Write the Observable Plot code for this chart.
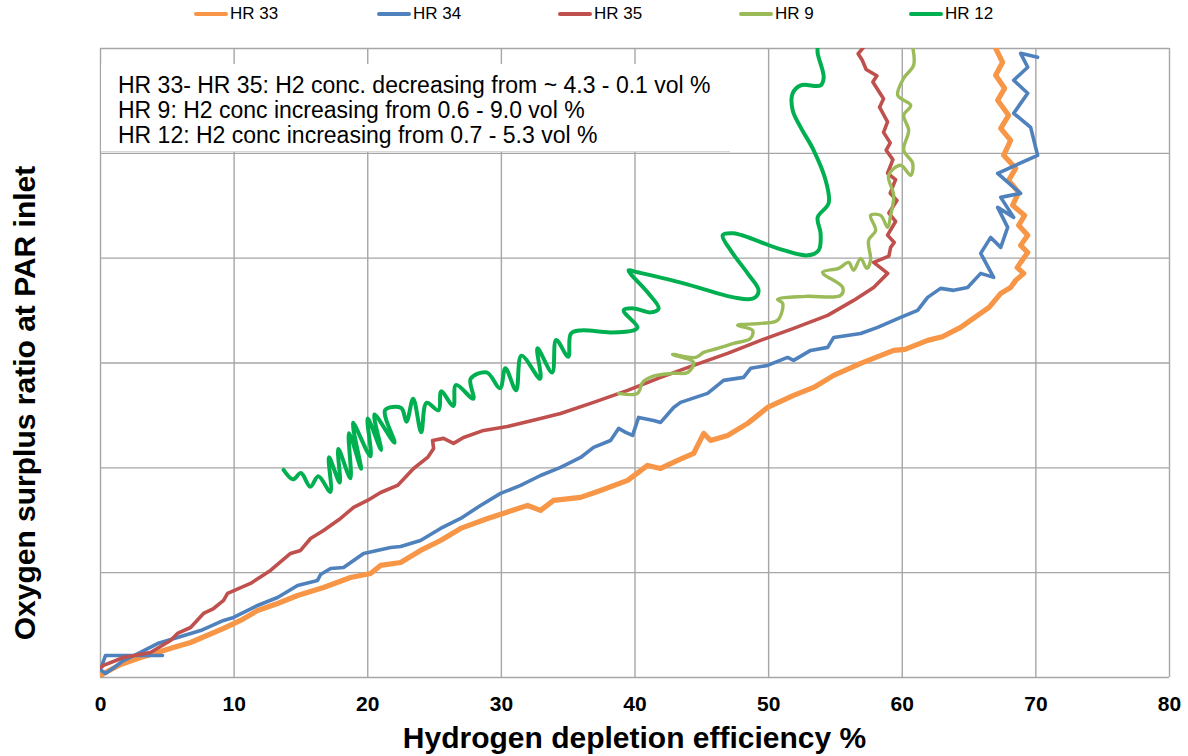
<!DOCTYPE html>
<html><head><meta charset="utf-8">
<script src="https://cdn.jsdelivr.net/npm/d3@7"></script>
<script src="https://cdn.jsdelivr.net/npm/@observablehq/plot@0.6"></script>
<style>
body{margin:0;background:#fff;font-family:"Liberation Sans",Arial,sans-serif;}
#wrap{position:relative;width:1188px;height:756px;overflow:hidden;background:#fff;}
#chart{position:absolute;left:0;top:0;}
.leg{position:absolute;top:4px;font-size:17px;line-height:20px;display:flex;align-items:center;color:#000;}
.sw{display:inline-block;width:34px;height:4px;margin-right:2px;border-radius:2px;}
#note{position:absolute;left:101px;top:64px;width:629px;height:88px;background:#fff;border-bottom:1px solid #d8d8d8;font-size:23px;line-height:25px;padding:9px 0 0 17px;box-sizing:border-box;color:#000;white-space:nowrap;}
#xt{position:absolute;left:100px;width:1069px;top:721px;text-align:center;font-weight:bold;font-size:30px;line-height:34px;}
#yt{position:absolute;left:25px;top:403px;transform:translate(-50%,-50%) rotate(-90deg);font-weight:bold;font-size:30px;white-space:nowrap;}
</style></head>
<body>
<div id="wrap">
  <div id="chart"></div>
  <div id="legend"></div>
  <div id="note"></div>
  <div id="xt"></div>
  <div id="yt"></div>
</div>
<script>
// ---- data (x = hydrogen depletion efficiency %, y = oxygen surplus ratio, arbitrary units) ----
const seriesNames = ["HR 33", "HR 34", "HR 35", "HR 9", "HR 12"];
const seriesColors = ["#F79646", "#4F81BD", "#C0504D", "#9BBB59", "#00B050"];
const xTicks = [0, 10, 20, 30, 40, 50, 60, 70, 80];
const yTicks = [0, 10, 20, 30, 40, 50, 60];
const xTitle = "Hydrogen depletion efficiency %";
const yTitle = "Oxygen surplus ratio at PAR inlet";
const noteLines = [
  "HR 33- HR 35: H2 conc. decreasing from ~ 4.3 - 0.1 vol %",
  "HR 9: H2 conc increasing from 0.6 - 9.0 vol %",
  "HR 12: H2 conc increasing from 0.7 - 5.3 vol %"
];

const hr33 = [[0,0.1],[0.22,0.38],[1.5,1.24],[3.0,1.91],[5.46,2.86],[6.74,3.34],[9.21,4.68],[10.48,5.44],[11.75,6.39],[13.25,7.06],[14.75,7.82],[16.69,8.59],[18.71,9.54],[20.21,9.92],[20.96,10.69],[22.46,10.97],[23.95,12.12],[25.45,13.07],[26.95,14.22],[28.97,15.17],[31.96,16.41],[32.93,15.94],[33.91,16.89],[35.93,17.18],[37.42,17.84],[39.45,18.8],[40.94,20.23],[41.92,19.94],[43.19,20.71],[44.39,21.37],[45.14,23.28],[45.66,22.61],[46.93,23.09],[48.43,24.24],[49.92,25.76],[51.87,26.91],[53.37,27.67],[54.87,28.82],[56.89,29.96],[59.36,31.2],[60.2,31.3],[61.9,32.16],[63.0,32.5],[64.37,33.4],[65.64,34.54],[66.5,35.3],[67.37,36.64],[68.11,37.21],[68.49,37.88],[69.09,38.55],[68.6,39.1],[68.86,39.6],[69.39,40.54],[68.86,41.22],[69.39,42.18],[68.71,43.13],[69.16,44.08],[68.26,45.04],[68.71,46.28],[67.96,47.42],[68.49,48.57],[67.59,49.81],[68.11,51.24],[67.37,52.39],[67.96,53.63],[67.14,55.06],[67.66,56.2],[66.99,57.44],[67.51,58.68],[66.99,60.02]];

const hr34 = [[4.64,2.1],[0.37,2.1],[0,0.76],[0.37,0.38],[1.12,1.05],[1.72,1.62],[2.99,2.39],[4.27,3.24],[5.76,3.82],[7.49,4.48],[9.21,5.44],[9.96,5.73],[11.75,6.87],[13.25,7.63],[14.75,8.78],[16.24,9.26],[16.47,9.83],[17.22,10.4],[18.19,10.5],[19.69,11.83],[21.71,12.4],[22.46,12.5],[23.95,13.07],[25.45,14.22],[26.95,15.17],[28.44,16.41],[29.94,17.56],[31.44,18.32],[32.93,19.27],[34.43,20.04],[35.93,20.99],[36.9,21.95],[38.17,22.61],[38.77,23.76],[39.3,23.38],[39.82,23.09],[40.27,24.81],[41.39,24.52],[41.92,24.33],[42.89,25.76],[43.41,26.24],[45.43,27.1],[46.63,28.34],[48.13,28.63],[48.65,29.49],[49.92,29.77],[51.42,30.53],[51.87,30.25],[53.14,31.2],[54.42,31.49],[54.87,32.44],[56.89,32.82],[58.16,33.4],[59.88,34.35],[61.15,35.02],[61.9,36.26],[62.87,37.12],[63.85,36.93],[64.89,37.21],[65.87,38.55],[66.84,38.17],[65.87,40.46],[66.62,41.98],[67.37,41.03],[67.89,42.94],[67.14,44.85],[68.34,43.89],[67.37,45.8],[68.86,46.18],[67.14,48.09],[70.13,49.81],[69.61,52.48],[68.34,53.82],[69.39,55.73],[68.34,56.97],[69.39,58.21],[68.86,59.54],[70.13,59.16]];

const hr35 = [[0,0.95],[0.22,1.15],[1.72,1.91],[3.74,2.39],[5.24,3.53],[5.76,4.2],[6.74,4.77],[7.71,6.11],[8.46,6.58],[9.21,7.35],[9.51,8.02],[11.23,8.97],[12.72,10.21],[14.22,11.83],[14.97,12.12],[15.72,13.26],[16.69,14.03],[17.96,15.17],[18.94,16.22],[19.98,16.89],[20.96,17.65],[22.23,18.32],[23.43,19.94],[24.48,20.99],[24.93,21.85],[24.85,22.61],[25.67,22.81],[26.42,22.33],[27.17,22.9],[28.67,23.57],[30.46,23.95],[32.93,24.71],[34.43,25.19],[36.9,26.24],[39.45,27.39],[41.92,28.63],[44.39,29.77],[46.93,30.92],[49.4,32.16],[51.87,33.3],[54.42,34.54],[56.36,35.97],[57.86,37.21],[58.91,38.55],[57.86,39.6],[59.0,40.2],[59.13,41.03],[59.4,41.5],[58.9,42.2],[59.5,43.5],[59.0,44.3],[59.6,45.5],[59.1,46.2],[59.5,47.5],[58.9,48.1],[59.3,49.4],[58.8,50.3],[59.1,51.0],[58.6,52.0],[58.9,53.0],[58.3,54.4],[58.6,55.2],[57.8,56.8],[58.1,57.4],[57.3,58.0],[57.0,58.9],[56.7,59.5],[57.1,60.1]];

const hr9 = [[38.77,27.1],[40.19,27.1],[40.57,28.15],[41.32,28.72],[42.81,29.01],[43.94,29.1],[44.39,30.06],[42.81,30.82],[44.54,30.53],[45.14,31.01],[46.18,31.39],[47.38,31.87],[48.65,32.35],[48.8,33.11],[47.68,33.59],[49.4,33.78],[50.67,34.07],[51.05,35.69],[50.67,36.07],[52.77,36.36],[55.39,36.45],[55.54,37.21],[54.04,38.65],[55.24,39.03],[55.99,39.6],[56.36,38.84],[56.89,39.98],[57.34,39.03],[57.63,39.79],[57.48,41.7],[58.01,42.65],[57.63,44.08],[58.38,44.08],[58.91,42.94],[59.13,44.08],[59.36,45.99],[58.98,47.9],[59.88,48.86],[60.63,47.9],[60.78,49.05],[60.11,50.29],[60.48,52.2],[60.11,53.63],[60.63,54.58],[59.66,55.54],[60.11,57.16],[60.85,58.4],[60.78,60.12]];

const hr12 = [[13.7,19.8],[14.4,18.9],[15.0,19.5],[15.7,18.2],[16.3,19.2],[17.2,17.7],[17.1,21.0],[17.9,18.6],[17.8,21.8],[18.7,19.0],[18.6,23.3],[19.5,19.9],[18.9,24.3],[20.2,21.1],[20.0,24.7],[21.0,21.7],[20.5,25.1],[22.0,22.4],[21.3,25.5],[22.5,25.7],[22.9,24.4],[23.4,26.6],[24.0,23.4],[24.4,26.2],[25.3,25.5],[25.5,27.3],[26.4,25.9],[26.6,27.9],[27.9,26.6],[27.7,28.5],[28.9,29.1],[29.9,27.6],[30.3,29.5],[31.1,27.4],[31.5,30.7],[32.9,28.5],[32.7,31.4],[33.8,29.1],[34.1,32.2],[35.0,30.6],[35.2,32.8],[35.93,33.11],[38.17,32.92],[39.9,33.11],[40.19,33.4],[39.15,35.02],[39.9,35.21],[41.17,34.83],[41.77,35.21],[40.94,36.74],[39.52,38.84],[40.19,38.65],[43.64,37.6],[47.38,36.26],[48.88,36.17],[49.25,36.93],[48.43,38.55],[47.16,40.74],[46.56,42.18],[47.38,42.37],[50.67,40.94],[52.92,40.27],[53.74,40.74],[53.89,42.37],[53.67,43.89],[54.49,45.23],[54.27,47.42],[53.37,50.29],[52.4,52.48],[51.8,54.1],[51.8,55.73],[52.4,56.49],[53.89,56.49],[54.12,57.25],[53.67,59.54],[53.67,60.12]];

const seriesData = [hr33, hr34, hr35, hr9, hr12];
const seriesWidths = [5.2, 3.6, 3.6, 3.4, 4];
const seriesCurves = ["linear", "linear", "linear", "catmull-rom", "catmull-rom"];

const gridStyle = {stroke: "#a6a6a6", strokeOpacity: 1, strokeWidth: 1.4};

const chart = Plot.plot({
  width: 1188, height: 756,
  marginLeft: 100, marginRight: 19, marginTop: 48, marginBottom: 79,
  x: {domain: [0, 80]},
  y: {domain: [0, 60], axis: null},
  style: {fontFamily: "'Liberation Sans', Arial, sans-serif", background: "transparent", color: "#000"},
  marks: [
    Plot.gridX(xTicks, gridStyle),
    Plot.gridY(yTicks, gridStyle),
    Plot.axisX(xTicks, {tickSize: 0, tickPadding: 19, fontSize: 21, fontWeight: "bold", label: null, fill: "#000"}),
    ...seriesData.map((d, i) => Plot.line(d, {
      x: p => p[0], y: p => p[1],
      stroke: seriesColors[i], strokeWidth: seriesWidths[i],
      curve: seriesCurves[i], clip: true,
      strokeLinejoin: "round", strokeLinecap: "round"
    }))
  ]
});
document.getElementById("chart").appendChild(chart);

// legend
const legendLeft = [194, 377, 558, 739, 909];
const legend = document.getElementById("legend");
seriesNames.forEach((n, i) => {
  const item = document.createElement("div");
  item.className = "leg";
  item.style.left = legendLeft[i] + "px";
  const sw = document.createElement("span");
  sw.className = "sw";
  sw.style.background = seriesColors[i];
  item.appendChild(sw);
  item.appendChild(document.createTextNode(n));
  legend.appendChild(item);
});

document.getElementById("note").innerHTML = noteLines.join("<br>");
document.getElementById("xt").textContent = xTitle;
document.getElementById("yt").textContent = yTitle;
</script>
</body></html>
